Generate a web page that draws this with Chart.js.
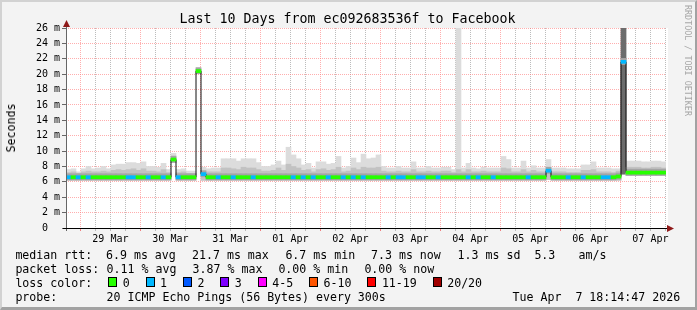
<!DOCTYPE html>
<html>
<head>
<meta charset="utf-8">
<script src="https://cdn.jsdelivr.net/npm/chart.js@4.4.1/dist/chart.umd.min.js"></script>
<style>
  html, body { margin: 0; padding: 0; background: #f3f3f3; }
  #wrap { position: relative; width: 697px; height: 310px; overflow: hidden;
          font-family: "DejaVu Sans Mono", monospace; color: #000; }
  #chart { position: absolute; left: 0; top: 0; }
  #frame { position: absolute; left: 0; top: 0; width: 697px; height: 310px; box-sizing: border-box;
           border-top: 2px solid #d2d2d2; border-left: 2px solid #d2d2d2;
           border-right: 2px solid #a2a2a2; border-bottom: 3px solid #a2a2a2; pointer-events: none; }
  .t { position: absolute; white-space: pre; font-size: 11.6px; line-height: 14px; }
  #title { position: absolute; left: 0; top: 11px; width: 695px; text-align: center;
           font-size: 13.3px; line-height: 16px; white-space: pre; }
  #ylab { position: absolute; left: 11px; top: 127.5px; font-size: 11.6px; line-height: 14px;
          white-space: pre; transform: translate(-50%, -50%) rotate(-90deg); }
  #mark { position: absolute; left: 683px; top: 5px; font-size: 8.4px; line-height: 10px;
          color: #a6a6a6; writing-mode: vertical-rl; white-space: pre; }
  .box { position: absolute; width: 9px; height: 10px; box-sizing: border-box; border: 1px solid #000; }
</style>
</head>
<body>
<div id="wrap">
  <canvas id="chart" width="697" height="310"></canvas>
  <div id="title">Last 10 Days from ec092683536f to Facebook</div>
  <div id="ylab">Seconds</div>
  <div id="mark">RRDTOOL / TOBI OETIKER</div>

  <div class="t" style="left:15.4px;top:247.5px">median rtt:</div>
  <div class="t" style="left:106px;top:247.5px">6.9 ms avg</div>
  <div class="t" style="left:192px;top:247.5px">21.7 ms max</div>
  <div class="t" style="left:285.4px;top:247.5px">6.7 ms min</div>
  <div class="t" style="left:371px;top:247.5px">7.3 ms now</div>
  <div class="t" style="left:457.6px;top:247.5px">1.3 ms sd</div>
  <div class="t" style="left:534.4px;top:247.5px">5.3</div>
  <div class="t" style="left:578.6px;top:247.5px">am/s</div>

  <div class="t" style="left:15.4px;top:261.5px">packet loss:</div>
  <div class="t" style="left:106.6px;top:261.5px">0.11 % avg</div>
  <div class="t" style="left:192.6px;top:261.5px">3.87 % max</div>
  <div class="t" style="left:278.4px;top:261.5px">0.00 % min</div>
  <div class="t" style="left:364.4px;top:261.5px">0.00 % now</div>

  <div class="t" style="left:15.4px;top:275.5px">loss color:</div>
  <div id="losslegend"></div>

  <div class="t" style="left:15.4px;top:289.5px">probe:</div>
  <div class="t" style="left:106.6px;top:289.5px">20 ICMP Echo Pings (56 Bytes) every 300s</div>
  <div class="t" style="left:512.6px;top:289.5px">Tue Apr  7 18:14:47 2026</div>

  <div id="frame"></div>
</div>
<script>
// x axis: hours relative to 29 Mar 00:00; the graph starts 28 Mar 18:15, 2 h per sample
const startHour = -5.75;
const binHours = 2;
const dayLabels = ['29 Mar', '30 Mar', '31 Mar', '01 Apr', '02 Apr',
                   '03 Apr', '04 Apr', '05 Apr', '06 Apr', '07 Apr'];

// median rtt (ms), one value per 2 h sample
const median = [
  6.6, 6.6, 6.6, 6.6, 6.6, 6.6, 6.6, 6.6, 6.6, 6.6,
  6.6, 6.6, 6.6, 6.6, 6.6, 6.6, 6.6, 6.6, 6.6, 6.6,
  6.6, 8.9, 6.6, 6.6, 6.6, 6.6, 20.4, 7.0, 6.6, 6.6,
  6.6, 6.6, 6.6, 6.6, 6.6, 6.6, 6.6, 6.6, 6.6, 6.6,
  6.6, 6.6, 6.6, 6.6, 6.6, 6.6, 6.6, 6.6, 6.6, 6.6,
  6.6, 6.6, 6.6, 6.6, 6.6, 6.6, 6.6, 6.6, 6.6, 6.6,
  6.6, 6.6, 6.6, 6.6, 6.6, 6.6, 6.6, 6.6, 6.6, 6.6,
  6.6, 6.6, 6.6, 6.6, 6.6, 6.6, 6.6, 6.6, 6.6, 6.6,
  6.6, 6.6, 6.6, 6.6, 6.6, 6.6, 6.6, 6.6, 6.6, 6.6,
  6.6, 6.6, 6.6, 6.6, 6.6, 6.6, 7.45, 6.6, 6.6, 6.6,
  6.6, 6.6, 6.6, 6.6, 6.6, 6.6, 6.6, 6.6, 6.6, 6.6,
  6.7, 21.6, 7.2, 7.2, 7.2, 7.2, 7.2, 7.2, 7.2, 7.2
];

// lost pings (of 20) per sample
const lost = [
  1, 0, 1, 0, 1, 0, 0, 0, 0, 0,
  0, 0, 1, 1, 0, 0, 1, 0, 0, 1,
  0, 0, 1, 0, 0, 0, 0, 1, 0, 0,
  1, 0, 0, 1, 0, 0, 0, 1, 0, 0,
  0, 0, 0, 0, 0, 1, 0, 1, 0, 1,
  0, 0, 1, 0, 0, 1, 0, 1, 0, 1,
  0, 0, 0, 0, 1, 0, 1, 1, 0, 0,
  1, 1, 0, 0, 1, 0, 0, 0, 0, 0,
  1, 0, 1, 0, 0, 1, 0, 0, 0, 0,
  0, 0, 1, 0, 0, 0, 1, 0, 0, 0,
  1, 0, 0, 1, 0, 0, 0, 1, 1, 0,
  0, 1, 0, 0, 0, 0, 0, 0, 0, 0
];

// smoke: fastest ping, upper edge of the dense part, slowest ping (ms)
const smokeLow = [
  6.2, 6.2, 6.2, 6.2, 6.2, 6.2, 6.2, 6.2, 6.2, 6.2,
  6.2, 6.2, 6.2, 6.2, 6.2, 6.2, 6.2, 6.2, 6.2, 6.2,
  6.2, 8.5, 6.2, 6.2, 6.2, 6.2, 20.1, 6.2, 6.2, 6.2,
  6.2, 6.2, 6.2, 6.2, 6.2, 6.2, 6.2, 6.2, 6.2, 6.2,
  6.2, 6.2, 6.2, 6.2, 6.2, 6.2, 6.2, 6.2, 6.2, 6.2,
  6.2, 6.2, 6.2, 6.2, 6.2, 6.2, 6.2, 6.2, 6.2, 6.2,
  6.2, 6.2, 6.2, 6.2, 6.2, 6.2, 6.2, 6.2, 6.2, 6.2,
  6.2, 6.2, 6.2, 6.2, 6.2, 6.2, 6.2, 6.2, 6.2, 6.2,
  6.2, 6.2, 6.2, 6.2, 6.2, 6.2, 6.2, 6.2, 6.2, 6.2,
  6.2, 6.2, 6.2, 6.2, 6.2, 6.2, 6.3, 6.2, 6.2, 6.2,
  6.2, 6.2, 6.2, 6.2, 6.2, 6.2, 6.2, 6.2, 6.2, 6.2,
  6.2, 7.0, 6.8, 6.8, 6.8, 6.8, 6.8, 6.8, 6.8, 6.8
];
const smokeMid = [
  7.2, 7.3, 7.1, 7.3, 7.4, 7.3, 7.3, 7.4, 7.3, 7.5,
  7.6, 7.5, 7.6, 7.7, 7.5, 7.7, 7.4, 7.4, 7.3, 7.6,
  7.2, 9.3, 7.2, 7.3, 7.1, 7.1, 20.6, 7.4, 7.3, 7.3,
  7.3, 7.8, 7.8, 7.7, 7.6, 7.9, 7.8, 7.8, 7.6, 7.4,
  7.4, 7.5, 7.8, 7.5, 8.3, 8.0, 7.8, 7.5, 7.6, 7.3,
  7.6, 7.7, 7.5, 7.6, 7.9, 7.3, 7.4, 7.8, 7.6, 7.9,
  7.8, 7.8, 7.9, 7.4, 7.3, 7.3, 7.4, 7.3, 7.3, 7.6,
  7.3, 7.3, 7.4, 7.3, 7.3, 7.4, 7.4, 7.2, 7.6, 7.3,
  7.6, 7.3, 7.3, 7.4, 7.3, 7.3, 7.3, 7.8, 7.7, 7.3,
  7.3, 7.6, 7.3, 7.5, 7.3, 7.3, 7.9, 7.3, 7.3, 7.3,
  7.2, 7.2, 7.2, 7.5, 7.5, 7.6, 7.3, 7.3, 7.3, 7.2,
  7.4, 26, 7.9, 7.9, 7.9, 7.8, 7.8, 7.9, 7.9, 7.8
];
const smokeHigh = [
  7.6, 7.7, 7.3, 7.7, 8.0, 7.7, 7.8, 8.0, 7.7, 8.2,
  8.3, 8.3, 8.5, 8.5, 8.4, 8.6, 8.0, 8.0, 7.9, 8.4,
  7.6, 9.7, 7.6, 7.7, 7.4, 7.4, 20.8, 7.9, 7.7, 7.8,
  7.8, 9.0, 9.0, 9.0, 8.7, 9.0, 9.0, 9.0, 8.5, 8.0,
  8.0, 8.2, 8.7, 8.2, 10.5, 9.5, 9.0, 8.2, 8.4, 7.8,
  8.6, 8.6, 8.3, 8.4, 9.3, 7.8, 8.0, 9.1, 8.5, 9.6,
  9.0, 9.1, 9.5, 8.0, 7.8, 7.8, 8.0, 7.8, 7.8, 8.6,
  7.8, 7.8, 8.0, 7.8, 7.8, 7.9, 7.9, 7.6, 26, 7.8,
  8.4, 7.8, 7.7, 7.9, 7.8, 7.8, 7.8, 9.3, 8.9, 7.8,
  7.8, 8.7, 7.8, 8.1, 7.8, 7.8, 8.9, 7.8, 7.8, 7.8,
  7.7, 7.7, 7.7, 8.2, 8.2, 8.6, 7.8, 7.8, 7.8, 7.7,
  7.7, 26, 8.7, 8.7, 8.7, 8.6, 8.6, 8.7, 8.7, 8.6
];

const lossLabels = ['0', '1', '2', '3', '4-5', '6-10', '11-19', '20/20'];
const lossColors = ['#26ff00', '#00b8ff', '#0059ff', '#7e00ff', '#ff00ff', '#ff5500', '#ff0000', '#a10000'];

function lossClass(n) {
  if (n <= 3) return n;
  if (n <= 5) return 4;
  if (n <= 10) return 5;
  if (n <= 19) return 6;
  return 7;
}

// loss colour legend
(function () {
  const host = document.getElementById('losslegend');
  let x = 108.3;
  lossLabels.forEach((lab, i) => {
    const b = document.createElement('div');
    b.className = 'box';
    b.style.left = x + 'px';
    b.style.top = '277px';
    b.style.background = lossColors[i];
    host.appendChild(b);
    const t = document.createElement('div');
    t.className = 't';
    t.style.left = (x + 14.4) + 'px';
    t.style.top = '275.5px';
    t.textContent = lab;
    host.appendChild(t);
    x += 15.4 + 15 + lab.length * 6.98;
  });
})();

const majorGrid = 'rgba(255, 120, 120, 0.6)';
const minorGrid = 'rgba(160, 160, 160, 0.7)';

const centres = median.map((_, i) => startHour + binHours * (i + 0.5));
const span = (lo, hi) => centres.map((x, i) => ({ x: x, y: [lo[i], hi[i]] }));
const coreLow = median.map(m => m - 0.35);
const coreHigh = median.map(m => m + 0.45);
const lineLow = median.map(m => m - 0.2);
const lineHigh = median.map(m => m + 0.2);

const steps = median.map((m, i) => ({ x: startHour + binHours * i, y: m }));
steps.push({ x: startHour + binHours * median.length, y: median[median.length - 1] });

const xTicks = [];
for (let h = 0; h <= startHour + binHours * median.length; h += 6) xTicks.push(h);
const yTicks = [];
for (let v = 0; v <= 26; v++) yTicks.push(v);

const barBase = {
  type: 'bar', grouped: false, barPercentage: 1, categoryPercentage: 1,
  borderWidth: 0, clip: 0
};

const axesPlugin = {
  id: 'axes',
  beforeDraw(chart) {
    const { ctx, chartArea: a } = chart;
    ctx.save();
    ctx.fillStyle = '#fff';
    ctx.fillRect(a.left, a.top, a.right - a.left + 2, a.bottom - a.top);
    ctx.restore();
  },
  afterDraw(chart) {
    const { ctx, chartArea: a } = chart;
    ctx.save();
    // y axis
    ctx.strokeStyle = '#666';
    ctx.lineWidth = 1;
    ctx.beginPath();
    ctx.moveTo(a.left + 0.5, a.bottom + 3);
    ctx.lineTo(a.left + 0.5, a.top - 5);
    ctx.stroke();
    // x axis
    ctx.strokeStyle = '#000';
    ctx.beginPath();
    ctx.moveTo(a.left - 3, a.bottom + 0.5);
    ctx.lineTo(a.right + 3, a.bottom + 0.5);
    ctx.stroke();
    // arrow heads
    ctx.fillStyle = '#8f1a1a';
    ctx.beginPath();
    ctx.moveTo(a.left + 0.5, a.top - 8);
    ctx.lineTo(a.left - 3, a.top - 1);
    ctx.lineTo(a.left + 4, a.top - 1);
    ctx.closePath();
    ctx.fill();
    ctx.beginPath();
    ctx.moveTo(a.right + 8, a.bottom + 0.5);
    ctx.lineTo(a.right + 1, a.bottom - 3);
    ctx.lineTo(a.right + 1, a.bottom + 4);
    ctx.closePath();
    ctx.fill();
    ctx.restore();
  }
};

Chart.defaults.font.family = '"DejaVu Sans Mono", monospace';

new Chart(document.getElementById('chart'), {
  data: {
    datasets: [
      Object.assign({}, barBase, {
        data: span(lineLow, lineHigh), order: 0,
        backgroundColor: lost.map(n => lossColors[lossClass(n)])
      }),
      {
        type: 'line', data: steps, order: 1, stepped: 'before',
        borderColor: '#111', borderWidth: 1, pointRadius: 0, fill: false
      },
      Object.assign({}, barBase, {
        data: span(coreLow, coreHigh), order: 2, backgroundColor: '#a4a4a4'
      }),
      Object.assign({}, barBase, {
        data: span(smokeLow, smokeMid), order: 3,
        backgroundColor: ctx => {
          const r = ctx.raw;
          return r && r.y[1] - r.y[0] > 5 ? '#6c6c6c' : '#c2c2c2';
        }
      }),
      Object.assign({}, barBase, {
        data: span(smokeLow, smokeHigh), order: 4, backgroundColor: '#dcdcdc'
      })
    ]
  },
  options: {
    responsive: false,
    animation: false,
    events: [],
    layout: { padding: { left: 0, top: 28, right: 31, bottom: 62 } },
    plugins: { legend: { display: false }, tooltip: { enabled: false } },
    scales: {
      x: {
        type: 'linear', z: 1, offset: false,
        min: startHour, max: startHour + binHours * median.length,
        afterBuildTicks: s => { s.ticks = xTicks.map(v => ({ value: v })); },
        afterFit: s => { s.height = 20; },
        ticks: {
          autoSkip: false, maxRotation: 0, padding: 2, color: '#000',
          font: { size: 10 },
          callback: v => (v % 24 === 12 ? dayLabels[(v - 12) / 24] : '')
        },
        grid: {
          offset: false,
          color: c => (c.tick && c.tick.value % 24 === 0 ? majorGrid : minorGrid),
          tickColor: c => (c.tick && c.tick.value % 24 === 0 ? '#f08080' : '#bbb'),
          tickLength: 3, lineWidth: 1
        },
        border: { display: false, dash: [1, 1] }
      },
      y: {
        type: 'linear', z: 1, min: 0, max: 26,
        afterBuildTicks: s => { s.ticks = yTicks.map(v => ({ value: v })); },
        afterFit: s => { s.width = 66; },
        ticks: {
          padding: 2, color: '#000', font: { size: 10 },
          callback: v => (v === 0 ? '0  ' : (v % 2 === 0 ? v + ' m' : ''))
        },
        grid: {
          color: c => (c.tick && c.tick.value % 2 === 0 ? majorGrid : minorGrid),
          tickColor: c => (c.tick && c.tick.value % 2 === 0 ? '#666' : 'rgba(0,0,0,0)'),
          tickLength: 4, lineWidth: 1
        },
        border: { display: false, dash: [1, 1] }
      }
    }
  },
  plugins: [axesPlugin]
});
</script>
</body>
</html>
